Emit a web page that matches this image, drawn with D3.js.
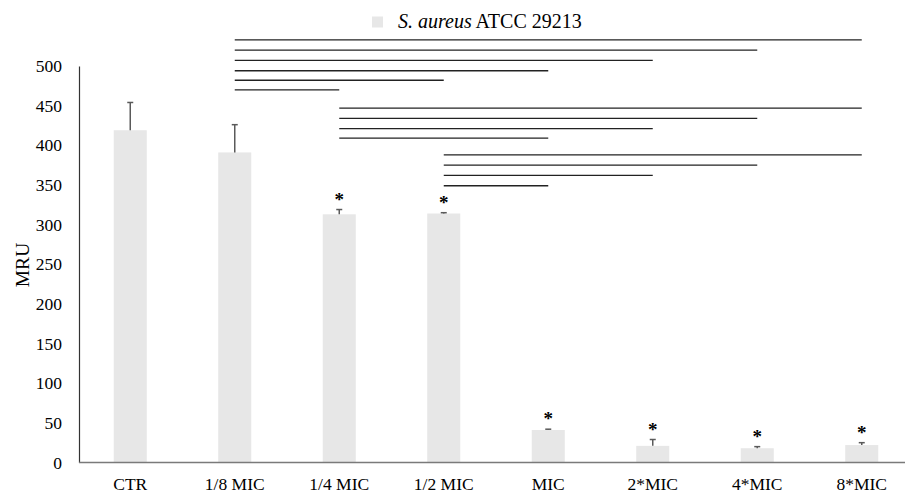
<!DOCTYPE html>
<html>
<head>
<meta charset="utf-8">
<script src="https://cdn.jsdelivr.net/npm/d3@7"></script>
<style>
  html, body { margin: 0; padding: 0; background: #fff; }
  svg { display: block; }
  text { font-family: "Liberation Serif", "Times New Roman", serif; fill: #000; }
</style>
</head>
<body>
<svg id="chart" width="905" height="495"></svg>
<script>
// Treatment groups on the x axis
const categories = ["CTR", "1/8 MIC", "1/4 MIC", "1/2 MIC", "MIC", "2*MIC", "4*MIC", "8*MIC"];
// Mean MRU per group and its standard deviation
const means = [419, 391, 313, 314, 41, 21, 18, 22];
const errors = [35, 35, 6, 1, 1, 8, 2, 3];
// Groups flagged as significant versus control
const significant = [false, false, true, true, true, true, true, true];
// Y axis ticks
const yTicks = [0, 50, 100, 150, 200, 250, 300, 350, 400, 450, 500];
const seriesName = ["S. aureus", " ATCC 29213"];
const yTitle = "MRU";

// Pairwise comparison brackets: start group, end group, height in MRU units
const compFrom = ["1/8 MIC", "1/8 MIC", "1/8 MIC", "1/8 MIC", "1/8 MIC", "1/8 MIC",
                  "1/4 MIC", "1/4 MIC", "1/4 MIC", "1/4 MIC",
                  "1/2 MIC", "1/2 MIC", "1/2 MIC", "1/2 MIC"];
const compTo = ["8*MIC", "4*MIC", "2*MIC", "MIC", "1/2 MIC", "1/4 MIC",
                "8*MIC", "4*MIC", "2*MIC", "MIC",
                "8*MIC", "4*MIC", "2*MIC", "MIC"];
const compLevel = [533, 520, 507, 494, 482, 470,
                   447, 434, 421, 409,
                   388, 375, 362, 349];

const svg = d3.select("#chart");

const x = d3.scaleBand()
  .domain(categories)
  .range([78, 914])
  .paddingInner(0.684)
  .paddingOuter(0.342);

const y = d3.scaleLinear()
  .domain([0, 500])
  .range([462.5, 66]);

const cx = c => x(c) + x.bandwidth() / 2;

// Bars
svg.append("g").selectAll("rect")
  .data(means)
  .join("rect")
  .attr("x", (d, i) => x(categories[i]))
  .attr("width", x.bandwidth())
  .attr("y", d => y(d))
  .attr("height", d => y(0) - y(d))
  .attr("fill", "#e7e7e7");

// Error bars (upper whisker only)
const eb = svg.append("g").attr("stroke", "#5a5a5a").attr("stroke-width", 1.5);
means.forEach((m, i) => {
  const xc = cx(categories[i]);
  eb.append("line")
    .attr("x1", xc).attr("x2", xc)
    .attr("y1", y(m)).attr("y2", y(m + errors[i]));
  eb.append("line")
    .attr("x1", xc - 3).attr("x2", xc + 3)
    .attr("y1", y(m + errors[i])).attr("y2", y(m + errors[i]));
});

// Significance asterisks
svg.append("g").selectAll("text")
  .data(means.map((m, i) => ({ m, e: errors[i], c: categories[i], s: significant[i] })).filter(d => d.s))
  .join("text")
  .attr("x", d => cx(d.c))
  .attr("y", d => y(d.m + d.e) - 4)
  .attr("text-anchor", "middle")
  .attr("font-size", 19)
  .attr("font-weight", "bold")
  .text("*");

// Comparison brackets
svg.append("g").attr("stroke", "#222").attr("stroke-width", 1.3)
  .selectAll("line")
  .data(compLevel.map((lv, i) => ({ a: compFrom[i], b: compTo[i], lv })))
  .join("line")
  .attr("x1", d => cx(d.a))
  .attr("x2", d => cx(d.b))
  .attr("y1", d => y(d.lv))
  .attr("y2", d => y(d.lv));

// Y axis
const yAxis = svg.append("g")
  .attr("transform", "translate(79,0)")
  .call(d3.axisLeft(y).tickValues(yTicks).tickSize(0).tickPadding(17));
yAxis.select(".domain").attr("stroke", "#333").attr("stroke-width", 1.2);
yAxis.selectAll("text").attr("font-size", 17.5).attr("font-family", "Liberation Serif").attr("fill", "#000");

// X axis
const xAxis = svg.append("g")
  .attr("transform", `translate(0,${y(0)})`)
  .call(d3.axisBottom(x).tickSize(0).tickPadding(15));
xAxis.select(".domain").attr("stroke", "#7a7a7a").attr("stroke-width", 1.6)
  .attr("d", `M79,0H905`);
xAxis.selectAll("text").attr("font-size", 17.5).attr("font-family", "Liberation Serif").attr("fill", "#000");

// Y axis title
svg.append("text")
  .attr("transform", "translate(29,265) rotate(-90)")
  .attr("text-anchor", "middle")
  .attr("font-size", 19.5)
  .text(yTitle);

// Legend
const lg = svg.append("g");
lg.append("rect")
  .attr("x", 372).attr("y", 16.5).attr("width", 11).attr("height", 11)
  .attr("fill", "#e7e7e7");
const lt = lg.append("text").attr("x", 398).attr("y", 28).attr("font-size", 20);
lt.append("tspan").attr("font-style", "italic").text(seriesName[0]);
lt.append("tspan").text(seriesName[1]);
</script>
</body>
</html>
